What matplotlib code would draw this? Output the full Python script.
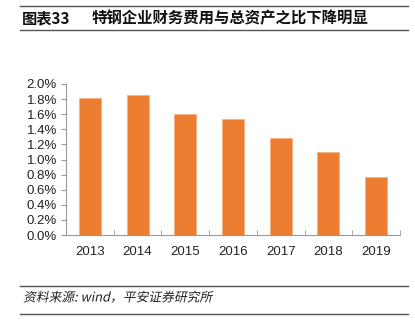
import matplotlib
matplotlib.use("Agg")
import matplotlib.pyplot as plt
from matplotlib.ticker import FuncFormatter, MultipleLocator
from matplotlib.lines import Line2D
from matplotlib.patheffects import AbstractPathEffect
from matplotlib.transforms import Affine2D

years = ["2013", "2014", "2015", "2016", "2017", "2018", "2019"]
ratio = [1.82, 1.857, 1.60, 1.54, 1.288, 1.093, 0.773]

title_num = "图表33"
title_txt = "特钢企业财务费用与总资产之比下降明显"
source = "资料来源: wind，平安证券研究所"


class Slant(AbstractPathEffect):
    def __init__(self, deg=12):
        super().__init__()
        self.deg = deg

    def draw_path(self, renderer, gc, tpath, affine, rgbFace=None):
        renderer.draw_path(gc, tpath, Affine2D().skew_deg(self.deg, 0) + affine, rgbFace)


plt.rcParams['font.family'] = ['Liberation Sans', 'Noto Sans CJK SC', 'DejaVu Sans']

W, H = 415, 328
fig = plt.figure(figsize=(W/100, H/100), dpi=100)

ax = fig.add_axes([66/W, 1-235/H, (400-66)/W, (235-84)/H])
x = range(len(years))
ax.bar(x, ratio, width=0.46, color='#ED7D31', edgecolor='#F4B084', linewidth=0.6, zorder=2)
ax.set_xlim(-0.5, len(years)-0.5)
ax.set_ylim(0, 2.0)
ax.yaxis.set_major_locator(MultipleLocator(0.2))
ax.yaxis.set_major_formatter(FuncFormatter(lambda v, p: f"{v:.1f}%"))
ax.set_xticks(list(x))
ax.set_xticklabels(years)
ax.set_xticks([i-0.5 for i in range(len(years)+1)], minor=True)
ax.tick_params(axis='x', which='major', length=0, labelsize=9.5, pad=8, colors='#222222')
ax.tick_params(axis='x', which='minor', length=3.5, direction='in', color='#999999')
ax.tick_params(axis='y', length=3.5, direction='out', color='#999999', labelsize=9.5, colors='#222222', pad=3)
ax.tick_params(axis='y', color='#999999')
for s in ['top', 'right']:
    ax.spines[s].set_visible(False)
for s in ['left', 'bottom']:
    ax.spines[s].set_color('#999999')
    ax.spines[s].set_linewidth(0.8)

# header / footer rules
for yy in [6, 30, 286, 314]:
    fig.add_artist(Line2D([20/W, 408/W], [1-yy/H, 1-yy/H], color='#555555', lw=1.0))

fig.text(22/W, 1-18/H, title_num, fontsize=11, fontweight='bold',
         family=['Noto Sans CJK SC'], va='center', ha='left', color='#111111')
fig.text(92/W, 1-18/H, title_txt, fontsize=11.1, fontweight='bold',
         family=['Noto Sans CJK SC'], va='center', ha='left', color='#111111')
fig.text(23/W, 1-298/H, source, fontsize=9.2,
         family=['Noto Sans CJK SC', 'DejaVu Sans'], va='center', ha='left', color='#222222',
         path_effects=[Slant(12)])

fig.savefig("out.png", dpi=100)
